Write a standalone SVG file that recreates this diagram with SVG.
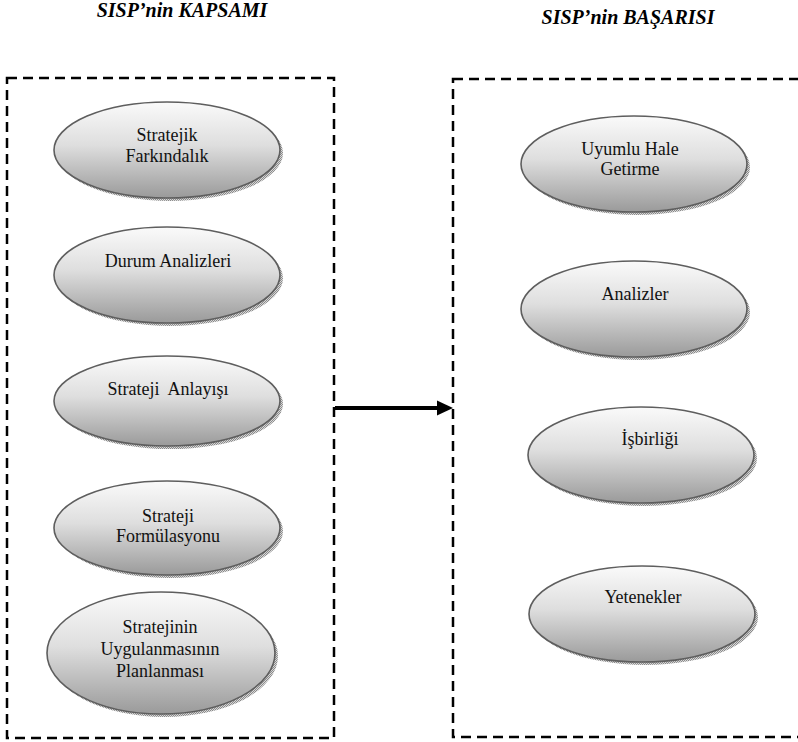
<svg xmlns="http://www.w3.org/2000/svg" width="798" height="742" viewBox="0 0 798 742">
  <defs>
    <linearGradient id="ovalFill" x1="0" y1="0" x2="0" y2="1">
      <stop offset="0" stop-color="#fafafa"/>
      <stop offset="0.45" stop-color="#dedede"/>
      <stop offset="1" stop-color="#9a9a9a"/>
    </linearGradient>
    <pattern id="grain" width="2" height="2" patternUnits="userSpaceOnUse">
      <rect width="2" height="2" fill="#d8d8d8"/>
      <rect width="1" height="1" fill="#8a8a8a"/>
      <rect x="1" y="1" width="1" height="1" fill="#8a8a8a"/>
    </pattern>
  </defs>
  <style>
    .frame { fill: none; stroke: #000; stroke-width: 2.5; stroke-dasharray: 10 6; }
    .shadow { fill: url(#grain); }
    .oval { fill: url(#ovalFill); stroke: #5e5e5e; stroke-width: 1.6; }
    .label { font-family: 'Times New Roman', 'Liberation Serif', serif; font-size: 18px; fill: #111; text-anchor: middle; }
    .title { font-family: 'Times New Roman', 'Liberation Serif', serif; font-size: 20px; font-weight: bold; font-style: italic; fill: #000; text-anchor: middle; }
  </style>

  <rect width="798" height="742" fill="#fff"/>

  <!-- column headings -->
  <text class="title" x="182" y="17">SISP’nin KAPSAMI</text>
  <text class="title" x="628" y="24">SISP’nin BAŞARISI</text>

  <!-- dashed containers -->
  <g id="scope-frame">
    <rect class="frame" x="7" y="78" width="327" height="660"/>
  </g>
  <g id="success-frame">
    <rect class="frame" x="453" y="79" width="360" height="658"/>
  </g>

  <!-- left column -->
  <g id="stratejik-farkindalik">
    <ellipse class="shadow" cx="170" cy="153" rx="113" ry="48"/>
    <ellipse class="oval" cx="167" cy="150" rx="113" ry="48"/>
    <text class="label" x="167" y="141">Stratejik</text>
    <text class="label" x="167" y="162">Farkındalık</text>
  </g>
  <g id="durum-analizleri">
    <ellipse class="shadow" cx="170" cy="278" rx="113" ry="48"/>
    <ellipse class="oval" cx="167" cy="275" rx="113" ry="48"/>
    <text class="label" x="168" y="267">Durum Analizleri</text>
  </g>
  <g id="strateji-anlayisi">
    <ellipse class="shadow" cx="170" cy="404" rx="113" ry="45"/>
    <ellipse class="oval" cx="167" cy="401" rx="113" ry="45"/>
    <text class="label" x="168" y="395" xml:space="preserve">Strateji  Anlayışı</text>
  </g>
  <g id="strateji-formulasyonu">
    <ellipse class="shadow" cx="170" cy="531" rx="113" ry="47"/>
    <ellipse class="oval" cx="167" cy="528" rx="113" ry="47"/>
    <text class="label" x="168" y="522">Strateji</text>
    <text class="label" x="168" y="542">Formülasyonu</text>
  </g>
  <g id="uygulama-planlamasi">
    <ellipse class="shadow" cx="164" cy="656" rx="114" ry="61"/>
    <ellipse class="oval" cx="161" cy="653" rx="114" ry="61"/>
    <text class="label" x="160" y="633">Stratejinin</text>
    <text class="label" x="160" y="655">Uygulanmasının</text>
    <text class="label" x="160" y="677">Planlanması</text>
  </g>

  <!-- right column -->
  <g id="uyumlu-hale-getirme">
    <ellipse class="shadow" cx="637" cy="167" rx="113" ry="48"/>
    <ellipse class="oval" cx="634" cy="164" rx="113" ry="48"/>
    <text class="label" x="630" y="155">Uyumlu Hale</text>
    <text class="label" x="630" y="175">Getirme</text>
  </g>
  <g id="analizler">
    <ellipse class="shadow" cx="637" cy="312" rx="113" ry="48"/>
    <ellipse class="oval" cx="634" cy="309" rx="113" ry="48"/>
    <text class="label" x="635" y="300">Analizler</text>
  </g>
  <g id="isbirligi">
    <ellipse class="shadow" cx="644" cy="458" rx="113" ry="48"/>
    <ellipse class="oval" cx="641" cy="455" rx="113" ry="48"/>
    <text class="label" x="650" y="445">İşbirliği</text>
  </g>
  <g id="yetenekler">
    <ellipse class="shadow" cx="645" cy="617" rx="113" ry="48"/>
    <ellipse class="oval" cx="642" cy="614" rx="113" ry="48"/>
    <text class="label" x="643" y="603">Yetenekler</text>
  </g>

  <!-- connector between the two columns -->
  <g id="connectors">
    <line x1="335" y1="408" x2="440" y2="408" stroke="#000" stroke-width="4"/>
    <polygon points="437,400.5 453,408 437,415.5" fill="#000"/>
  </g>
</svg>
